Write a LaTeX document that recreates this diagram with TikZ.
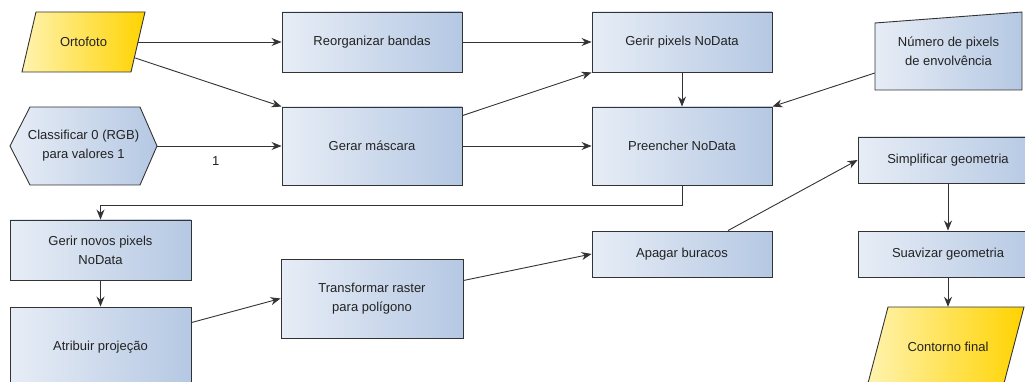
\documentclass[tikz,border=0pt]{standalone}
\usepackage{fontspec}
\setmainfont{Liberation Sans}
\usetikzlibrary{arrows.meta,calc}
\definecolor{linec}{HTML}{333333}
\definecolor{txtc}{HTML}{222222}
\definecolor{blueL}{HTML}{E7EDF6}
\definecolor{blueR}{HTML}{B5C8E3}
\definecolor{yelL}{HTML}{FFF3B0}
\definecolor{yelR}{HTML}{FFD300}
\tikzset{
  lbl/.style={font=\fontsize{13}{19}\selectfont, text=txtc, align=center, inner sep=0pt},
  bluebox/.style={lbl, draw=linec, line width=0.9pt, left color=blueL, right color=blueR, minimum width=180pt, minimum height=#1},
  bluebox/.default=60pt,
  shapefill/.style={draw=linec, line width=0.9pt, left color=blueL, right color=blueR},
  yelfill/.style={draw=linec, line width=0.9pt, left color=yelL, right color=yelR},
  arr/.style={draw=linec, line width=0.9pt, -{Stealth[length=10pt,width=8pt]}}
}
\begin{document}
\begin{tikzpicture}[x=1pt,y=-1pt]
\useasboundingbox (0,0) rectangle (1025,382);
\clip (0,0) rectangle (1025,382);
% non-rectangular shapes
\path[yelfill] (36,12) -- (145,12) -- (131,72) -- (22,72) -- cycle;
\path[shapefill] (10,146) -- (30,107) -- (140,107) -- (157,146) -- (140,185) -- (30,185) -- cycle;
\path[shapefill] (875,23) -- (1022,12) -- (1022,90) -- (875,90) -- cycle;
\path[yelfill] (888,307) -- (1024,307) -- (1003,387) -- (867,387) -- cycle;
% text / anchor nodes
\node[lbl, minimum width=109pt, minimum height=60pt] (orto) at (83.5,42) {Ortofoto};
\node[lbl, minimum width=147pt, minimum height=78pt] (classif) at (83.5,146) {Classificar 0 (RGB)\\para valores 1};
\node[lbl, minimum width=147pt, minimum height=78pt] (numero) at (948.5,51) {Número de pixels\\de envolvência};
\node[lbl, minimum width=150pt, minimum height=80pt] (contorno) at (948,347) {Contorno final};
% boxes
\node[bluebox] (reorg) at (372,42) {Reorganizar bandas};
\node[bluebox] (gerirpx) at (682,42) {Gerir pixels NoData};
\node[bluebox=78pt] (gerar) at (372,146) {Gerar máscara};
\node[bluebox=78pt] (preen) at (682,146) {Preencher NoData};
\node[bluebox, minimum width=181pt] (novos) at (100.5,250) {Gerir novos pixels\\NoData};
\node[bluebox=80pt, minimum width=181pt] (atrib) at (100.5,347) {Atribuir projeção};
\node[bluebox=79pt, minimum width=182pt] (transf) at (372,298.5) {Transformar raster\\para polígono};
\node[bluebox=46pt] (apagar) at (682,254) {Apagar buracos};
\node[bluebox=46pt] (simpl) at (948,160) {Simplificar geometria};
\node[bluebox=46pt] (suav) at (948,254) {Suavizar geometria};
% connectors
\draw[arr] (orto.east) -- (reorg.west);
\draw[arr] ($(orto.east)+(-3,16)$) -- (gerar.north west);
\draw[arr] (classif.east) -- node[lbl, below=10pt, pos=0.47] {1} (gerar.west);
\draw[arr] (reorg.east) -- (gerirpx.west);
\draw[arr] ($(gerar.north east)+(0,9)$) -- (gerirpx.south west);
\draw[arr] (gerar.east) -- (preen.west);
\draw[arr] (gerirpx.south) -- (preen.north);
\draw[arr] ($(numero.west)+(0,22)$) -- (preen.north east);
\draw[arr] (preen.south) -- ++(0,20) -| (novos.north);
\draw[arr] (novos.south) -- (atrib.north);
\draw[arr] ($(atrib.north east)+(0,16)$) -- (transf.west);
\draw[arr] ($(transf.east)+(0,-18)$) -- (apagar.west);
\draw[arr] ($(apagar.north)+(46,0)$) -- (simpl.west);
\draw[arr] (simpl.south) -- (suav.north);
\draw[arr] (suav.south) -- (contorno.north);
\end{tikzpicture}
\end{document}
